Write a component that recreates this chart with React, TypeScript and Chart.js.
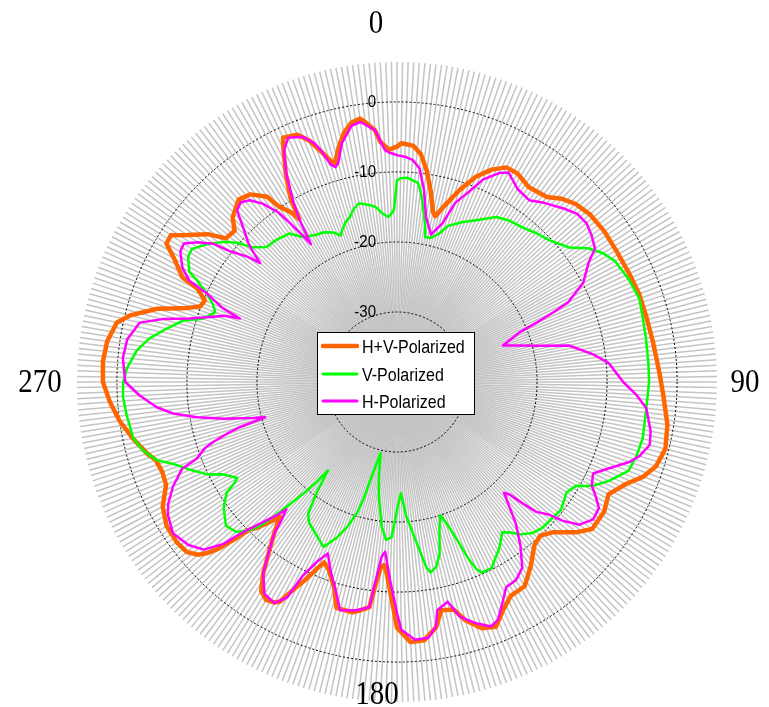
import React, { useEffect, useRef } from 'react';
import { Chart, registerables } from 'chart.js';

Chart.register(...registerables);

// Angle categories (degrees, clockwise from top)
const ANGLE_LABELS: string[] = Array.from({ length: 360 }, (_, i) => String(i));

// Direction labels shown around the plot
const DIRECTION_TEXT = ['0', '90', '180', '270'];
const DIRECTION_INDEX = [0, 90, 180, 270];

// Radial axis range (dB)
const R_MIN = -40;
const R_MAX = 5.7;
const R_STEP = 10;

// H+V-Polarized (angle in degrees -> dB)
const HV_ANGLES = [
  0, 1, 2, 4, 6, 8, 10, 12, 13, 15, 18, 21, 24, 27, 30, 34, 39, 42, 45, 49, 54, 59, 65, 70, 75, 81, 88, 93, 99, 104,
  108, 111, 114, 118, 122, 127, 130, 134, 137, 140, 144, 148, 152, 155, 158, 161, 164, 166, 169, 171, 174, 177, 180,
  181, 183, 184, 185, 186, 187, 189, 191, 195, 197, 200, 202, 203, 205, 207, 208, 209, 211, 213, 215, 217, 219, 221,
  222, 224, 225, 226, 227, 228, 229, 231, 234, 238, 242, 246, 249, 252, 254, 258, 262, 266, 270, 274, 278, 282, 284,
  287, 289, 291, 293, 295, 296, 299, 301, 303, 305, 308, 310, 313, 315, 319, 322, 325, 326, 328, 329, 330, 332, 334,
  335, 338, 340, 342, 344, 346, 348, 350, 352, 353, 355, 356, 358, 359,
];
const HV_DB = [
  -6.4, -5.9, -6.0, -6.2, -7.3, -9.5, -12.3, -15.2, -15.7, -14.0, -11.2, -8.6, -6.8, -5.6, -5.6, -6.4, -6.0, -4.8, -4.0,
  -3.5, -3.4, -3.5, -3.4, -3.2, -3.2, -3.0, -2.5, -1.9, -0.9, -0.5,
  -1.1, -2.3, -4.2, -5.8, -5.1, -5.1, -6.6, -9.1, -10.0, -9.5, -7.5, -5.6, -5.4, -4.1, -2.3, -2.8, -4.6, -6.5, -6.8,
  -4.5, -2.9, -2.8, -4.9,
  -7.9, -12.5, -13.8, -13.4, -11.0, -7.6, -7.0, -6.5, -6.6, -9.3, -11.5, -12.2, -11.2, -8.7, -6.2, -4.5, -4.0, -3.7,
  -4.4, -6.7, -9.6, -12.1, -14.5,
  -13.3, -11.0, -10.2, -7.5, -5.0, -3.5, -2.4, -1.4, -1.1, -1.2, -2.1, -3.9, -4.1, -3.8, -2.9, -1.4, 0.0, 1.1, 2.0,
  2.1, 1.8, 0.9, -0.7,
  -4.2, -7.7, -9.9, -10.2, -8.6, -5.9, -3.6, -1.6, -1.5, -3.4, -5.7, -8.1, -8.3, -6.8, -5.5, -6.0, -7.7, -9.7, -11.4,
  -12.9, -9.5, -6.1, -3.0,
  -1.5, -1.9, -3.3, -5.6, -7.7, -5.5, -3.6, -2.4, -2.0, -2.6, -3.9, -5.6, -6.8, -6.6,
];

// V-Polarized
const V_ANGLES = [
  0, 1, 3, 6, 7, 8, 10, 11, 13, 16, 18, 22, 26, 31, 35, 39, 43, 47, 52, 55, 58, 61, 66, 71, 75, 80, 86, 90, 97, 103,
  107, 111, 115, 118, 120, 123, 128, 131, 135, 138, 141, 143, 145, 148, 153, 156, 157, 158, 159, 160, 161, 162, 164,
  166, 168, 170, 171, 173, 176, 178, 180, 182, 184, 186, 189, 191, 193, 195, 196, 197, 199, 201, 204, 207, 212, 214,
  216, 218, 219, 220, 221, 222, 223, 224, 225, 227, 230, 234, 237, 238, 239, 242, 244, 247, 250, 252, 255, 258, 263,
  267, 270, 273, 277, 280, 283, 286, 288, 291, 293, 295, 297, 298, 301, 303, 306, 309, 311, 313, 316, 320, 324, 327,
  331, 334, 337, 339, 340, 342, 344, 346, 348, 351, 353, 355, 357, 358, 359,
];
const V_DB = [
  -11.2, -10.9, -10.8, -11.4, -12.5, -14.0, -17.0, -18.9, -18.9, -17.9, -16.6, -15.4, -14.3, -12.5, -11.9, -11.6,
  -10.9, -10.3, -8.8, -6.7, -5.3, -4.4, -3.8, -3.4, -3.7, -3.9, -4.0, -4.0, -4.2, -4.0,
  -4.2, -4.6, -6.6, -8.4, -10.4, -11.1, -10.3, -10.5, -10.6, -11.0, -12.0, -13.1, -13.8, -12.3, -10.2, -10.2, -11.0,
  -12.8, -15.5, -17.5, -19.0, -20.0, -18.0,
  -14.8, -13.0, -12.4, -13.2, -16.8, -20.7, -24.1, -21.7, -17.8, -17.4, -19.2, -23.4, -26.5, -29.6, -26.0, -22.5,
  -20.4, -18.1, -16.3, -14.2, -15.1, -16.3, -17.3,
  -20.5, -24.0, -21.3, -19.2, -17.3, -15.0, -12.8, -11.2, -10.0, -8.6, -8.1, -9.4, -11.0, -12.5, -13.4, -11.9, -9.9,
  -7.9, -5.9, -3.9, -2.4, -1.5, -1.1,
  -0.8, -0.9, -1.4, -2.6, -4.1, -6.2, -8.2, -10.8, -12.2, -11.4, -10.0, -7.9, -6.4, -5.2, -5.1, -6.5, -8.2, -9.7,
  -11.8, -13.2, -13.4, -13.8, -15.3,
  -16.0, -16.2, -16.8, -17.6, -17.0, -16.1, -15.5, -14.5, -13.9, -14.4, -14.8, -15.8, -16.4, -16.0, -15.4,
];

// H-Polarized
const H_ANGLES = [
  0, 2, 4, 6, 8, 10, 13, 16, 18, 21, 23, 26, 28, 32, 36, 39, 44, 47, 50, 53, 56, 58, 62, 65, 66, 67, 68, 71, 73, 76,
  78, 82, 85, 90, 93, 96, 101, 104, 107, 109, 112, 115, 118, 120, 122, 125, 128, 130, 131, 133, 134, 135, 136, 138,
  140, 143, 146, 149, 152, 154, 157, 159, 162, 165, 167, 170, 171, 173, 176, 179, 180, 182, 184, 185, 186, 187, 190,
  194, 196, 199, 202, 204, 206, 207, 209, 212, 215, 217, 219, 220, 221, 222, 224, 226, 227, 229, 232, 236, 240, 242,
  245, 248, 249, 251, 252, 253, 254, 255, 256, 257, 258, 260, 262, 264, 267, 270, 275, 279, 283, 285, 287, 290, 291,
  292, 293, 295, 296, 298, 301, 303, 305, 307, 308, 310, 311, 312, 313, 315, 317, 319, 321, 323, 325, 326, 327, 328,
  329, 330, 332, 334, 336, 339, 341, 342, 343, 344, 345, 347, 350, 352, 355, 357, 358, 359,
];
const H_DB = [
  -7.6, -7.8, -8.2, -9.3, -12.3, -16.1, -18.4, -16.4, -13.1, -10.7, -8.6, -6.8, -6.1, -7.5, -7.9, -7.0, -5.6, -4.8,
  -4.7, -5.2, -5.9, -7.7, -9.9, -13.0, -15.6, -18.4, -21.2, -24.0, -22.2, -18.6,
  -14.9, -11.7, -9.6, -7.7, -5.8, -4.2, -3.1, -2.8, -3.8, -4.9, -7.2, -9.1, -8.5, -7.2, -6.0, -5.8, -6.9, -9.2, -11.1,
  -12.8, -15.0, -17.3, -18.0, -16.0,
  -13.6, -10.7, -8.0, -7.0, -6.8, -5.4, -3.1, -2.6, -3.8, -5.3, -7.8, -6.9, -4.6, -3.2, -3.1, -4.6, -7.0, -11.7,
  -15.7, -15.0, -12.0, -7.6, -6.9,
  -6.4, -8.6, -11.1, -13.6, -11.9, -9.1, -5.5, -3.9, -4.3, -6.7, -9.6, -12.1, -14.5, -15.9, -14.4, -12.0, -8.7, -6.1,
  -3.5, -2.2, -1.4, -2.2, -3.0,
  -4.7, -6.9, -9.3, -11.0, -12.5, -14.5, -16.7, -20.5, -18.8, -17.0, -14.8, -11.0, -7.7, -5.5, -3.2, -1.2, -0.7,
  -1.0, -2.3, -5.3, -9.0, -12.6, -13.6,
  -15.8, -12.9, -10.0, -7.0, -5.3, -3.9, -3.7, -5.2, -7.2, -9.6, -12.2, -14.1, -12.5, -11.0, -9.0, -6.5, -6.0, -6.6,
  -8.1, -10.4, -12.6, -14.6, -16.8,
  -13.0, -10.5, -6.3, -3.2, -1.8, -2.5, -4.0, -5.5, -7.5, -8.1, -7.6, -5.0, -2.8, -2.5, -3.9, -6.8, -7.2, -7.4,
];

const HV_COLOR = '#ff6600';
const V_COLOR = '#00ff00';
const H_COLOR = '#ff00ff';

function toSeries(angles: number[], values: number[]): (number | null)[] {
  const out: (number | null)[] = new Array(ANGLE_LABELS.length).fill(null);
  angles.forEach((a, i) => {
    out[a] = values[i];
  });
  return out;
}

const TEXT_STRETCH = 1.14;

function stretchedText(ctx: CanvasRenderingContext2D, text: string, x: number, y: number) {
  ctx.save();
  ctx.translate(x, y);
  ctx.scale(1, TEXT_STRETCH);
  ctx.fillText(text, 0, 0);
  ctx.restore();
}

const polarDecor = {
  id: 'polarDecor',
  beforeDatasetsDraw(chart: any) {
    const s = chart.scales.r;
    const ctx: CanvasRenderingContext2D = chart.ctx;
    const cx = s.xCenter;
    const cy = s.yCenter;
    // dotted rings
    ctx.save();
    ctx.strokeStyle = '#000';
    ctx.lineWidth = 1;
    ctx.setLineDash([2, 2]);
    s.ticks.forEach((t: any) => {
      if (t.value <= s.min) return;
      const r = s.getDistanceFromCenterForValue(t.value);
      ctx.beginPath();
      ctx.arc(cx, cy, r, 0, Math.PI * 2);
      ctx.stroke();
    });
    ctx.restore();
    // radial tick labels
    ctx.save();
    ctx.fillStyle = '#000';
    ctx.font = '15px "Liberation Sans", Arial, sans-serif';
    ctx.textAlign = 'right';
    ctx.textBaseline = 'middle';
    s.ticks.forEach((t: any) => {
      if (t.value <= s.min) return;
      const r = s.getDistanceFromCenterForValue(t.value);
      stretchedText(ctx, t.label, cx - 21, cy - r);
    });
    ctx.restore();
    // direction labels
    ctx.save();
    ctx.fillStyle = '#000';
    ctx.font = '29px "Liberation Serif", "Times New Roman", serif';
    ctx.textAlign = 'center';
    ctx.textBaseline = 'middle';
    const dist = [359, 348, 312, 357];
    const shift = [-21, 0, -20, 0];
    DIRECTION_INDEX.forEach((idx, k) => {
      const p = s.getPointPosition(idx, dist[k]);
      stretchedText(ctx, DIRECTION_TEXT[k], p.x + shift[k], p.y + 1);
    });
    ctx.restore();
  },
  afterDraw(chart: any) {
    const s = chart.scales.r;
    const ctx: CanvasRenderingContext2D = chart.ctx;
    const lx = s.xCenter - 80;
    const ly = s.yCenter - 50;
    const w = 157;
    const h = 82;
    ctx.save();
    ctx.fillStyle = '#fff';
    ctx.fillRect(lx, ly, w, h);
    ctx.strokeStyle = '#000';
    ctx.lineWidth = 1;
    ctx.strokeRect(lx + 0.5, ly + 0.5, w, h);
    const rows = [14, 42, 69];
    ctx.font = '16px "Liberation Sans", Arial, sans-serif';
    ctx.textAlign = 'left';
    ctx.textBaseline = 'middle';
    chart.data.datasets.forEach((ds: any, i: number) => {
      const y = ly + rows[i];
      ctx.strokeStyle = ds.borderColor;
      ctx.lineWidth = i === 0 ? 4.5 : 3;
      ctx.lineCap = 'round';
      ctx.beginPath();
      ctx.moveTo(lx + 6, y);
      ctx.lineTo(lx + 40, y);
      ctx.stroke();
      ctx.fillStyle = '#000';
      stretchedText(ctx, ds.label, lx + 45, y + 2);
    });
    ctx.restore();
  },
};

export default function App() {
  const ref = useRef<HTMLCanvasElement | null>(null);
  useEffect(() => {
    if (!ref.current) return;
    const common = {
      fill: false,
      pointRadius: 0,
      pointHoverRadius: 0,
      pointHitRadius: 0,
      spanGaps: true,
      tension: 0,
      borderJoinStyle: 'round' as const,
    };
    const chart = new Chart(ref.current, {
      type: 'radar',
      data: {
        labels: ANGLE_LABELS,
        datasets: [
          { ...common, label: 'H+V-Polarized', data: toSeries(HV_ANGLES, HV_DB), borderColor: HV_COLOR, borderWidth: 4.5, order: 3 },
          { ...common, label: 'V-Polarized', data: toSeries(V_ANGLES, V_DB), borderColor: V_COLOR, borderWidth: 2.5, order: 2 },
          { ...common, label: 'H-Polarized', data: toSeries(H_ANGLES, H_DB), borderColor: H_COLOR, borderWidth: 2.5, order: 1 },
        ],
      },
      options: {
        responsive: false,
        maintainAspectRatio: false,
        animation: false,
        events: [],
        layout: { padding: { left: 77, right: 52, top: 62, bottom: 5 } },
        plugins: { legend: { display: false }, tooltip: { enabled: false } },
        scales: {
          r: {
            min: R_MIN,
            max: R_MAX,
            startAngle: 0,
            beginAtZero: false,
            ticks: { display: false, stepSize: R_STEP, includeBounds: false },
            grid: { display: false, circular: true },
            angleLines: { display: true, color: '#c4c4c4', lineWidth: 1.5 },
            pointLabels: { display: false },
          },
        },
      },
      plugins: [polarDecor],
    });
    return () => chart.destroy();
  }, []);
  return (
    <div style={{ position: 'absolute', left: 0, top: 0, width: 769, height: 707, background: '#fff' }}>
      <canvas ref={ref} width={769} height={707} style={{ display: 'block', width: 769, height: 707 }} />
    </div>
  );
}
